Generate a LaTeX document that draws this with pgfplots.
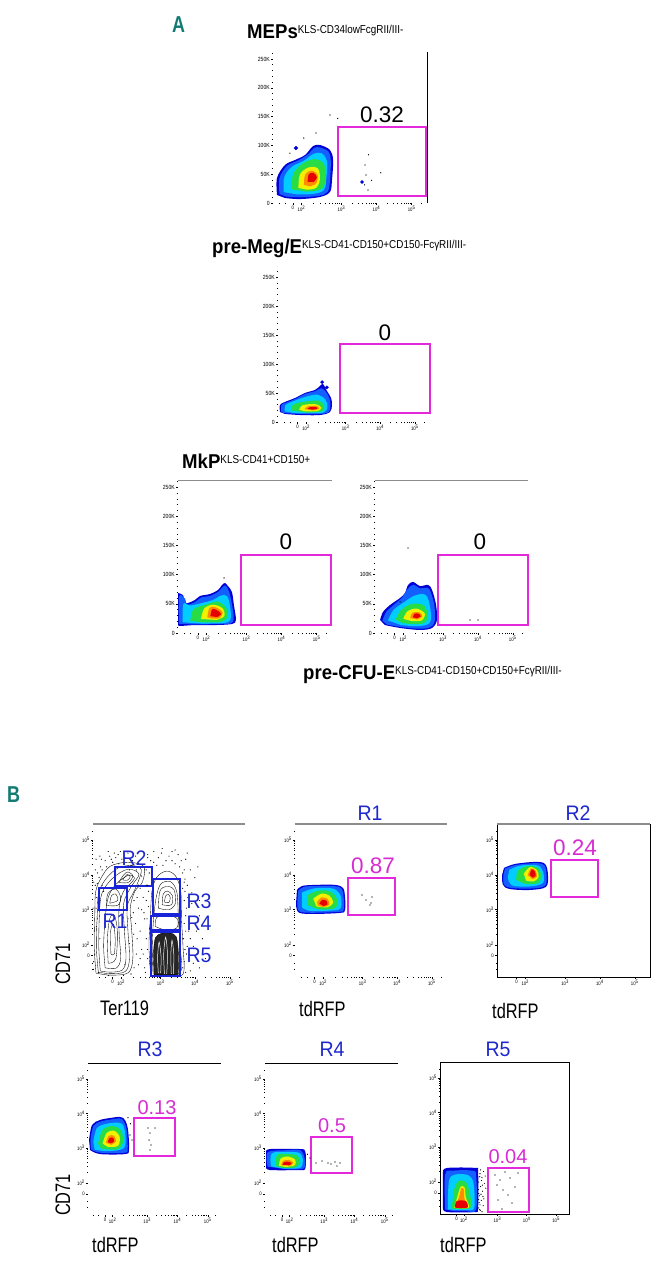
\documentclass[border=0pt]{standalone}
\usepackage{pgfplots}
\pgfplotsset{compat=1.18}
\usepackage{fontspec}
\setmainfont{Liberation Sans}
\newfontfamily\ttl{Liberation Sans}[FakeStretch=0.93]
\newfontfamily\sups{Liberation Sans}[FakeStretch=0.86]
\newfontfamily\nar{Liberation Sans}[FakeStretch=0.78]
\newfontfamily\tk{Liberation Sans}[FakeStretch=0.85]
\definecolor{tealA}{RGB}{20,122,116}
\definecolor{gateM}{RGB}{228,40,220}
\definecolor{numM}{RGB}{214,45,210}
\definecolor{rblue}{RGB}{30,40,205}
\definecolor{gblue}{RGB}{25,35,215}
\definecolor{d1}{RGB}{0,0,215}
\definecolor{d2}{RGB}{20,95,255}
\definecolor{d3}{RGB}{0,205,255}
\definecolor{d4}{RGB}{40,220,70}
\definecolor{d5}{RGB}{240,240,0}
\definecolor{d6}{RGB}{255,140,0}
\definecolor{d7}{RGB}{230,0,0}
\newcommand\tickfont{\tk\fontsize{5}{5}\selectfont}
\newcommand\blob[2]{\addplot[fill=#1,draw=none,smooth,tension=0.55] coordinates {#2};}
\newcommand\cont[1]{\addplot[black,line width=0.35pt,smooth,tension=0.55] coordinates {#1};}
\pgfplotsset{
 flowbase/.style={scale only axis, xmin=0,xmax=1000,ymin=0,ymax=1000, clip=false,
   axis line style={draw=none}, tick pos=left, tick align=outside,
   major tick length=2pt, minor tick length=1.1pt,
   every tick/.style={black,line width=0.4pt},
   xtick={128,185,445,672,900},
   xticklabels={0,10\textsuperscript{2},10\textsuperscript{3},10\textsuperscript{4},10\textsuperscript{5}},
   minor xtick={40,80,263,309,341,367,387,405,420,433,513,553,582,604,622,637,650,662,740,780,809,831,849,864,877,889,960},
   xticklabel style={font=\tickfont, inner sep=1pt},
   yticklabel style={font=\tickfont, inner sep=1pt},
   /pgf/number format/assume math mode=true},
 flowA/.style={flowbase, ytick={0,191,382,572,763,954},
   yticklabels={0,50K,100K,150K,200K,250K},
   minor ytick={38,76,114,153,229,267,305,343,420,458,496,534,610,648,687,725,801,839,877,916,992},
   yticklabel style={font=\tk\fontsize{6}{6}\selectfont}},
 flowB/.style={flowbase, ytick={140,210,440,668,895},
   yticklabels={0,10\textsuperscript{2},10\textsuperscript{3},10\textsuperscript{4},10\textsuperscript{5}},
   minor ytick={50,90,279,320,348,371,389,404,418,430,509,549,577,599,617,633,646,658,737,777,805,827,845,861,874,886,950}},
 gateA/.style={gateM,line width=1.8pt},
 gateB/.style={gateM,line width=1.5pt},
 dots/.style={only marks,mark=*,mark size=0.35pt,black},
}
\begin{document}
\begin{tikzpicture}
\useasboundingbox (0,0) rectangle (661pt,-1266pt);
% ---------------- Panel A ----------------
\node[anchor=base west,inner sep=0,text=tealA] at (172pt,-32pt) {\nar\bfseries\fontsize{23}{23}\selectfont A};
\node[anchor=base west,inner sep=0] at (247pt,-38pt) {\ttl\bfseries\fontsize{20}{20}\selectfont MEPs\raisebox{5pt}{\sups\mdseries\fontsize{11.5}{11.5}\selectfont KLS-CD34lowFcgRII/III-}};
\node[anchor=base west,inner sep=0] at (212pt,-253pt) {\ttl\bfseries\fontsize{20}{20}\selectfont pre-Meg/E\raisebox{5pt}{\sups\mdseries\fontsize{11.5}{11.5}\selectfont KLS-CD41-CD150+CD150-FcγRII/III-}};
\node[anchor=base west,inner sep=0] at (182pt,-468pt) {\ttl\bfseries\fontsize{20}{20}\selectfont MkP\raisebox{5pt}{\sups\mdseries\fontsize{11.5}{11.5}\selectfont KLS-CD41+CD150+}};
\node[anchor=base west,inner sep=0] at (303pt,-679pt) {\ttl\bfseries\fontsize{20}{20}\selectfont pre-CFU-E\raisebox{5pt}{\sups\mdseries\fontsize{11.5}{11.5}\selectfont KLS-CD41-CD150+CD150+FcγRII/III-}};

% A1 MEPs
\begin{axis}[flowA, at={(273pt,-52pt)}, anchor=north west, width=154pt, height=151pt]
\blob{d1}{(26,53)(26,166)(78,252)(143,285)(208,318)(260,377)(305,384)(370,351)(390,285)(383,152)(370,73)(305,40)(175,26)(78,33)}
\blob{d2}{(42,60)(42,165)(90,245)(165,283)(230,325)(268,365)(305,368)(360,340)(375,280)(370,150)(355,75)(300,48)(175,38)(85,43)}
\blob{d3}{(70,72)(72,168)(120,238)(200,280)(262,325)(315,330)(350,275)(345,150)(330,85)(260,60)(150,58)}
\blob{d4}{(123,90)(130,190)(190,260)(270,290)(330,260)(340,170)(320,95)(220,75)}
\blob{d5}{(165,100)(175,190)(230,235)(290,230)(305,160)(280,100)(220,88)}
\blob{d6}{(200,120)(210,190)(255,215)(290,185)(280,130)(240,110)}
\blob{d7}{(225,140)(232,190)(262,200)(285,170)(265,140)}
\addplot[only marks,mark=*,mark size=1.9pt,d1] coordinates {(149,364)};
\addplot[only marks,mark=*,mark size=1.5pt,d1] coordinates {(578,139)};
\addplot[dots] coordinates {(597,252)(604,185)(617,86)(370,583)(279,464)(620,320)(700,200)(595,120)(200,430)(420,560)(640,150)(110,330)};
\addplot[gateA] coordinates {(422,46)(993,46)(993,503)(422,503)} -- cycle;
\draw[black,line width=0.8pt] (rel axis cs:1,0) -- (rel axis cs:1,1);
\end{axis}
\node[anchor=base,inner sep=0] at (382pt,-122pt) {\fontsize{22.5}{22.5}\selectfont 0.32};

% A2 pre-Meg/E
\begin{axis}[flowA, at={(278pt,-270pt)}, anchor=north west, width=152pt, height=152pt]
\blob{d1}{(13,66)(13,112)(46,132)(112,158)(178,191)(243,211)(276,237)(296,250)(322,204)(349,158)(355,112)(342,66)(276,46)(145,46)(46,53)}
\blob{d2}{(22,64)(22,112)(55,128)(115,152)(180,185)(245,203)(285,222)(318,195)(340,150)(345,108)(332,64)(270,53)(145,53)(50,58)}
\blob{d3}{(45,70)(50,112)(110,140)(190,168)(260,180)(310,150)(325,100)(300,62)(200,58)(100,60)}
\blob{d4}{(90,76)(100,115)(180,135)(270,140)(305,105)(290,70)(190,62)}
\blob{d5}{(140,80)(160,110)(245,118)(285,95)(260,72)(180,70)}
\blob{d6}{(175,84)(195,103)(255,105)(270,88)(235,76)}
\blob{d7}{(195,87)(212,98)(250,98)(258,88)(225,81)}
\addplot[only marks,mark=*,mark size=1.6pt,d1] coordinates {(322,228)(290,262)};
\addplot[gateA] coordinates {(408,59)(1000,59)(1000,513)(408,513)} -- cycle;
\end{axis}
\node[anchor=base,inner sep=0] at (385pt,-340pt) {\fontsize{22.5}{22.5}\selectfont 0};

% A3 MkP
\begin{axis}[flowA, at={(178pt,-480pt)}, anchor=north west, width=154pt, height=153pt]
\blob{d1}{(0,261)(32,248)(52,196)(110,216)(143,242)(208,255)(260,281)(286,314)(305,327)(324,307)(350,268)(363,183)(376,85)(350,59)(240,52)(110,52)(13,46)(0,52)}
\blob{d2}{(6,60)(8,240)(45,225)(60,185)(115,205)(150,232)(210,243)(262,270)(290,300)(310,310)(332,270)(350,190)(362,95)(340,62)(240,58)(100,56)}
\blob{d3}{(30,70)(35,190)(80,180)(150,195)(225,215)(280,245)(320,240)(340,160)(340,85)(290,65)(150,62)}
\blob{d4}{(80,80)(100,155)(180,185)(260,205)(315,160)(320,100)(270,72)(150,70)}
\blob{d5}{(150,92)(170,160)(230,185)(290,160)(300,110)(250,85)}
\blob{d6}{(190,102)(205,165)(245,168)(290,135)(270,98)(225,94)}
\blob{d7}{(210,110)(222,155)(252,150)(280,125)(255,104)}
\addplot[dots] coordinates {(299,360)};
\addplot[gateA] coordinates {(409,52)(994,52)(994,510)(409,510)} -- cycle;
\draw[black!45,line width=0.8pt] (rel axis cs:0,1) -- (rel axis cs:1,1);
\end{axis}
\node[anchor=base,inner sep=0] at (286pt,-549pt) {\fontsize{22.5}{22.5}\selectfont 0};

% A4 pre-CFU-E
\begin{axis}[flowA, at={(375pt,-480pt)}, anchor=north west, width=153pt, height=153pt]
\blob{d1}{(33,85)(52,137)(98,183)(164,229)(196,262)(216,314)(249,334)(294,307)(347,314)(373,281)(399,183)(405,85)(373,33)(294,20)(164,33)(65,52)}
\blob{d2}{(48,80)(75,140)(130,190)(180,235)(210,285)(250,315)(295,292)(345,295)(365,265)(388,180)(390,75)(360,38)(290,28)(165,40)(80,55)}
\blob{d3}{(85,82)(120,150)(195,205)(260,245)(330,250)(360,170)(360,70)(285,45)(170,52)}
\blob{d4}{(135,88)(170,150)(240,190)(320,180)(345,110)(320,65)(250,58)(180,65)}
\blob{d5}{(185,92)(210,140)(270,160)(325,128)(305,82)(240,78)}
\blob{d6}{(230,98)(245,132)(290,135)(310,108)(275,88)}
\blob{d7}{(248,103)(258,126)(287,126)(298,108)(272,96)}
\addplot[dots] coordinates {(621,85)(673,85)(216,556)(164,203)};
\addplot[gateA] coordinates {(412,52)(1000,52)(1000,510)(412,510)} -- cycle;
\draw[black!45,line width=0.8pt] (rel axis cs:0,1) -- (rel axis cs:1,1);
\end{axis}
\node[anchor=base,inner sep=0] at (480pt,-549pt) {\fontsize{22.5}{22.5}\selectfont 0};

% ---------------- Panel B ----------------
\node[anchor=base west,inner sep=0,text=tealA] at (7pt,-802pt) {\nar\bfseries\fontsize{23}{23}\selectfont B};

% B1 Ter119 vs CD71
\begin{axis}[flowB, at={(93pt,-824pt)}, anchor=north west, width=152pt, height=153pt]
\addplot[dots,mark size=0.3pt] coordinates {(15,600)(30,680)(50,720)(80,760)(110,790)(150,780)(190,770)(260,760)(300,740)(340,700)(350,600)(330,520)(300,450)(280,350)(290,250)(285,150)(270,60)(250,20)(200,10)(100,10)(5,100)(8,300)(0,450)(25,520)(60,700)(130,750)(210,780)(320,660)(270,500)(265,420)(230,380)(240,220)(210,80)(35,30)(45,250)(30,380)(60,600)(170,740)(360,780)(340,380)(310,300)(320,180)(300,80)(20,770)(100,820)(180,820)(40,650)(70,560)(22,330)(12,150)(268,280)(255,390)(300,600)(240,700)(90,720)(290,520)(310,120)(2,50)(55,770)(140,810)(230,810)(280,790)(20,450)(320,440)(15,700)(45,790)(120,770)(165,800)(205,740)(250,730)(285,700)(310,580)(5,620)(28,610)};
\addplot[dots,mark size=0.3pt] coordinates {(360,800)(400,820)(450,810)(500,790)(560,800)(610,770)(640,700)(620,600)(600,500)(610,400)(630,300)(620,200)(600,100)(640,40)(350,700)(360,600)(350,500)(355,380)(350,250)(360,120)(345,30)(420,730)(480,760)(540,740)(590,680)(650,550)(660,350)(680,150)(700,60)(670,650)(430,780)(520,820)(580,760)(615,450)(595,250)(590,60)(365,460)(372,320)(650,480)(600,700)(700,500)(720,250)(380,760)(330,150)(340,60)(335,420)(605,640)(625,520)(640,250)(615,150)(660,90)(610,30)(370,680)(365,560)(358,180)(375,90)(600,350)(590,580)(455,840)(540,830)(620,810)(690,720)(700,400)(680,300)(660,200)(740,120)(400,750)(460,730)(520,760)(570,720)(600,620)(605,560)(610,300)(605,180)};
% left population contours
\cont{(20,25)(8,200)(12,420)(18,560)(55,650)(115,725)(230,750)(335,722)(325,620)(275,560)(245,450)(255,300)(262,120)(232,28)(120,12)(20,25)}
\cont{(35,32)(22,200)(28,410)(38,552)(90,648)(170,715)(262,728)(318,700)(290,605)(262,545)(225,460)(230,300)(240,120)(212,36)(115,22)(35,32)}
\cont{(48,40)(38,200)(42,400)(58,545)(128,645)(230,705)(302,672)(252,592)(202,482)(207,300)(217,120)(192,45)(110,32)(48,40)}
\cont{(80,60)(70,200)(80,380)(100,520)(150,605)(232,665)(272,642)(202,562)(172,452)(172,282)(182,120)(152,58)(80,60)}
\cont{(100,90)(95,250)(110,380)(140,405)(160,300)(150,120)(100,90)}
\cont{(118,150)(116,300)(135,345)(146,250)(140,150)(118,150)}
\cont{(88,468)(98,545)(150,575)(182,520)(162,468)(88,468)}
\cont{(110,482)(122,532)(150,542)(162,500)(110,482)}
\cont{(168,618)(220,685)(262,662)(232,618)(168,618)}
\cont{(195,635)(225,670)(245,655)(225,632)(195,635)}
% right population contours
\addplot[fill=black,fill opacity=0.85,draw=black,smooth,tension=0.5] coordinates {(402,12)(398,150)(410,255)(450,285)(505,288)(548,262)(562,150)(560,12)};
\addplot[white,line width=0.5pt,smooth] coordinates {(430,25)(425,130)(435,230)(448,130)(445,25)};
\addplot[white,line width=0.5pt,smooth] coordinates {(470,20)(465,150)(478,260)(490,150)(485,20)};
\addplot[white,line width=0.5pt,smooth] coordinates {(515,20)(512,140)(520,240)(532,140)(528,20)};
\cont{(380,8)(368,200)(378,400)(388,562)(420,652)(482,692)(542,662)(577,562)(582,380)(592,200)(592,18)(480,4)(380,8)}
\cont{(395,20)(390,200)(400,400)(420,540)(450,612)(512,622)(552,552)(562,380)(572,200)(572,30)(395,20)}
\cont{(430,450)(440,560)(480,592)(532,572)(542,482)(500,440)(430,450)}
\cont{(455,472)(462,542)(490,562)(522,532)(516,472)(455,472)}
\cont{(470,490)(478,530)(495,540)(508,520)(500,488)(470,490)}
\cont{(410,330)(420,390)(500,400)(555,380)(550,320)(470,310)(410,330)}
% gates
\addplot[gblue,line width=1.5pt] coordinates {(145,595)(388,595)(388,719)(145,719)} -- cycle;
\addplot[gblue,line width=1.5pt] coordinates {(39,438)(224,438)(224,582)(39,582)} -- cycle;
\addplot[gblue,line width=1.5pt] coordinates {(395,412)(572,412)(572,641)(395,641)} -- cycle;
\addplot[gblue,line width=1.5pt] coordinates {(382,307)(572,307)(572,399)(382,399)} -- cycle;
\addplot[gblue,line width=1.5pt] coordinates {(382,5)(572,5)(572,294)(382,294)} -- cycle;
\draw[black!45,line width=1.8pt] (rel axis cs:0,1) -- (rel axis cs:1,1);
\end{axis}
\node[anchor=base,inner sep=0,text=rblue] at (134pt,-865pt) {\ttl\fontsize{21}{21}\selectfont R2};
\node[anchor=base,inner sep=0,text=rblue] at (115pt,-928pt) {\ttl\fontsize{21}{21}\selectfont R1};
\node[anchor=base,inner sep=0,text=rblue] at (199pt,-908pt) {\ttl\fontsize{21}{21}\selectfont R3};
\node[anchor=base,inner sep=0,text=rblue] at (199pt,-930pt) {\ttl\fontsize{21}{21}\selectfont R4};
\node[anchor=base,inner sep=0,text=rblue] at (199pt,-962pt) {\ttl\fontsize{21}{21}\selectfont R5};
\node[rotate=90,anchor=base,inner sep=0] at (70pt,-964pt) {\nar\fontsize{21}{21}\selectfont CD71};
\node[anchor=base west,inner sep=0] at (100pt,-1015pt) {\nar\fontsize{21}{21}\selectfont Ter119};

% B2 R1
\node[anchor=base,inner sep=0,text=rblue] at (370pt,-820pt) {\ttl\fontsize{21}{21}\selectfont R1};
\begin{axis}[flowB, at={(295pt,-824pt)}, anchor=north west, width=152pt, height=153pt]
\blob{d1}{(13,569)(46,595)(132,602)(263,602)(316,582)(329,523)(329,438)(296,419)(99,412)(20,425)(7,484)}
\blob{d2}{(22,565)(60,590)(135,594)(262,594)(308,576)(320,523)(320,440)(290,426)(100,420)(25,432)(15,490)}
\blob{d3}{(45,552)(130,580)(250,578)(300,530)(300,450)(250,435)(100,432)(45,455)}
\blob{d4}{(80,535)(160,566)(240,555)(280,500)(262,450)(160,442)(85,470)}
\blob{d5}{(120,512)(175,545)(228,530)(250,485)(210,455)(140,462)}
\blob{d6}{(145,490)(175,520)(215,510)(225,472)(185,458)(150,468)}
\blob{d7}{(160,480)(180,505)(208,498)(212,472)(185,465)}
\addplot[dots] coordinates {(441,536)(467,504)(507,523)(493,471)(500,484)};
\addplot[gateB] coordinates {(349,405)(658,405)(658,647)(349,647)} -- cycle;
\draw[black!45,line width=1.8pt] (rel axis cs:0,1) -- (rel axis cs:1,1);
\end{axis}
\node[anchor=base,inner sep=0,text=numM] at (373pt,-873pt) {\fontsize{22.5}{22.5}\selectfont 0.87};
\node[anchor=base west,inner sep=0] at (299pt,-1016pt) {\nar\fontsize{21}{21}\selectfont tdRFP};

% B3 R2
\node[anchor=base,inner sep=0,text=rblue] at (578pt,-820pt) {\ttl\fontsize{21}{21}\selectfont R2};
\begin{axis}[flowB, at={(497pt,-824pt)}, anchor=north west, width=153pt, height=153pt]
\blob{d1}{(46,713)(118,739)(248,752)(314,739)(333,667)(320,589)(216,569)(85,575)(39,602)(33,667)}
\blob{d2}{(52,708)(120,732)(248,744)(308,732)(324,667)(312,595)(216,578)(90,583)(45,606)(42,667)}
\blob{d3}{(80,700)(150,728)(262,730)(300,690)(300,615)(215,592)(100,598)(70,650)}
\blob{d4}{(130,690)(190,725)(265,715)(288,665)(270,615)(190,608)(125,635)}
\blob{d5}{(175,675)(215,718)(260,700)(272,655)(240,625)(190,630)}
\blob{d6}{(200,665)(222,710)(252,695)(260,655)(232,640)}
\blob{d7}{(213,668)(227,704)(247,690)(252,660)(232,650)}
\addplot[gateB] coordinates {(353,523)(660,523)(660,765)(353,765)} -- cycle;
\draw[black,line width=0.7pt] (rel axis cs:0,1) -- (rel axis cs:0,0) -- (rel axis cs:1,0) -- (rel axis cs:1,1);
\draw[black!45,line width=1.8pt] (rel axis cs:0,1) -- (rel axis cs:1,1);
\end{axis}
\node[anchor=base,inner sep=0,text=numM] at (575pt,-855pt) {\fontsize{22.5}{22.5}\selectfont 0.24};
\node[anchor=base west,inner sep=0] at (492pt,-1018pt) {\nar\fontsize{21}{21}\selectfont tdRFP};

% B4 R3
\node[anchor=base,inner sep=0,text=rblue] at (150pt,-1056pt) {\ttl\fontsize{21}{21}\selectfont R3};
\begin{axis}[flowB, at={(88pt,-1063pt)}, anchor=north west, width=133pt, height=152pt]
\blob{d1}{(8,493)(30,592)(90,625)(165,638)(241,645)(278,625)(301,559)(308,428)(278,401)(90,401)(15,428)}
\blob{d2}{(18,490)(40,585)(95,615)(170,628)(240,635)(270,615)(292,555)(298,432)(272,410)(92,410)(22,432)}
\blob{d3}{(40,480)(70,575)(170,605)(255,600)(280,530)(270,440)(150,420)(50,430)}
\blob{d4}{(75,470)(110,560)(185,585)(250,555)(262,475)(220,432)(100,435)}
\blob{d5}{(110,470)(140,540)(195,555)(238,515)(225,455)(150,448)}
\blob{d6}{(135,475)(155,520)(195,522)(210,485)(175,462)}
\blob{d7}{(148,480)(163,507)(190,507)(195,482)(170,472)}
\addplot[dots] coordinates {(451,572)(466,539)(459,493)(474,461)(466,428)(504,572)(316,526)(331,493)(320,600)(300,640)};
\addplot[gateB] coordinates {(346,388)(654,388)(654,638)(346,638)} -- cycle;
\draw[black,line width=0.7pt] (rel axis cs:0,1) -- (rel axis cs:1,1);
\end{axis}
\node[anchor=base,inner sep=0,text=numM] at (157pt,-1114pt) {\fontsize{20}{20}\selectfont 0.13};
\node[anchor=base west,inner sep=0] at (92pt,-1252pt) {\nar\fontsize{21}{21}\selectfont tdRFP};
\node[rotate=90,anchor=base,inner sep=0] at (70pt,-1195pt) {\nar\fontsize{21}{21}\selectfont CD71};

% B5 R4
\node[anchor=base,inner sep=0,text=rblue] at (332pt,-1056pt) {\ttl\fontsize{21}{21}\selectfont R4};
\begin{axis}[flowB, at={(265pt,-1063pt)}, anchor=north west, width=133pt, height=152pt]
\blob{d1}{(8,415)(38,434)(263,434)(301,421)(308,362)(301,303)(263,296)(38,296)(8,316)}
\blob{d2}{(20,318)(20,412)(150,426)(265,426)(298,370)(290,306)(150,302)}
\blob{d3}{(45,320)(50,405)(160,415)(260,408)(285,360)(262,310)(140,306)}
\blob{d4}{(80,322)(90,395)(165,402)(245,390)(262,345)(225,312)(130,310)}
\blob{d5}{(105,324)(118,372)(170,385)(225,365)(225,328)(160,316)}
\blob{d6}{(122,327)(135,356)(180,362)(212,345)(195,325)}
\blob{d7}{(132,330)(143,348)(180,350)(200,338)(180,327)}
\addplot[dots] coordinates {(383,342)(429,355)(474,342)(496,336)(526,349)(564,342)(338,375)(541,322)(320,400)};
\addplot[gateB] coordinates {(346,276)(654,276)(654,513)(346,513)} -- cycle;
\draw[black,line width=0.7pt] (rel axis cs:0,1) -- (rel axis cs:1,1);
\end{axis}
\node[anchor=base,inner sep=0,text=numM] at (332pt,-1132pt) {\fontsize{20}{20}\selectfont 0.5};
\node[anchor=base west,inner sep=0] at (272pt,-1252pt) {\nar\fontsize{21}{21}\selectfont tdRFP};

% B6 R5
\node[anchor=base,inner sep=0,text=rblue] at (498pt,-1056pt) {\ttl\fontsize{21}{21}\selectfont R5};
\begin{axis}[flowB, at={(440pt,-1062pt)}, anchor=north west, width=129pt, height=152pt]
\addplot[dots,mark size=0.3pt] coordinates {(300,40)(310,60)(320,90)(305,120)(330,150)(315,180)(300,210)(325,240)(310,265)(340,100)(345,200)(305,30)(335,55)(318,130)(298,160)(322,220)(350,250)(300,95)(312,25)(328,190)(303,75)(333,115)(308,245)(338,280)(315,290)(355,170)(300,135)(326,15)};
\blob{d1}{(23,276)(54,303)(271,303)(295,276)(295,39)(264,13)(54,13)(23,39)}
\blob{d2}{(40,30)(40,260)(100,285)(250,285)(280,250)(280,30)(200,20)(100,20)}
\blob{d3}{(60,30)(70,220)(120,260)(220,255)(260,200)(265,40)(200,28)(100,28)}
\blob{d4}{(90,35)(110,160)(140,215)(200,210)(230,140)(240,45)(170,33)}
\blob{d5}{(110,40)(140,130)(160,180)(190,175)(200,110)(225,45)(170,38)}
\blob{d6}{(120,45)(150,120)(165,170)(185,160)(190,100)(215,50)}
\blob{d7}{(115,42)(130,85)(200,85)(215,45)(170,38)}
\addplot[dots] coordinates {(426,257)(465,224)(504,276)(543,237)(488,158)(527,125)(450,92)(558,72)(481,33)(581,178)(442,191)(605,270)};
\addplot[gateB] coordinates {(372,13)(690,13)(690,303)(372,303)} -- cycle;
\draw[black,line width=0.7pt] (rel axis cs:0,0) rectangle (rel axis cs:1,1);
\end{axis}
\node[anchor=base,inner sep=0,text=numM] at (508pt,-1163pt) {\fontsize{20}{20}\selectfont 0.04};
\node[anchor=base west,inner sep=0] at (440pt,-1252pt) {\nar\fontsize{21}{21}\selectfont tdRFP};
\end{tikzpicture}
\end{document}
